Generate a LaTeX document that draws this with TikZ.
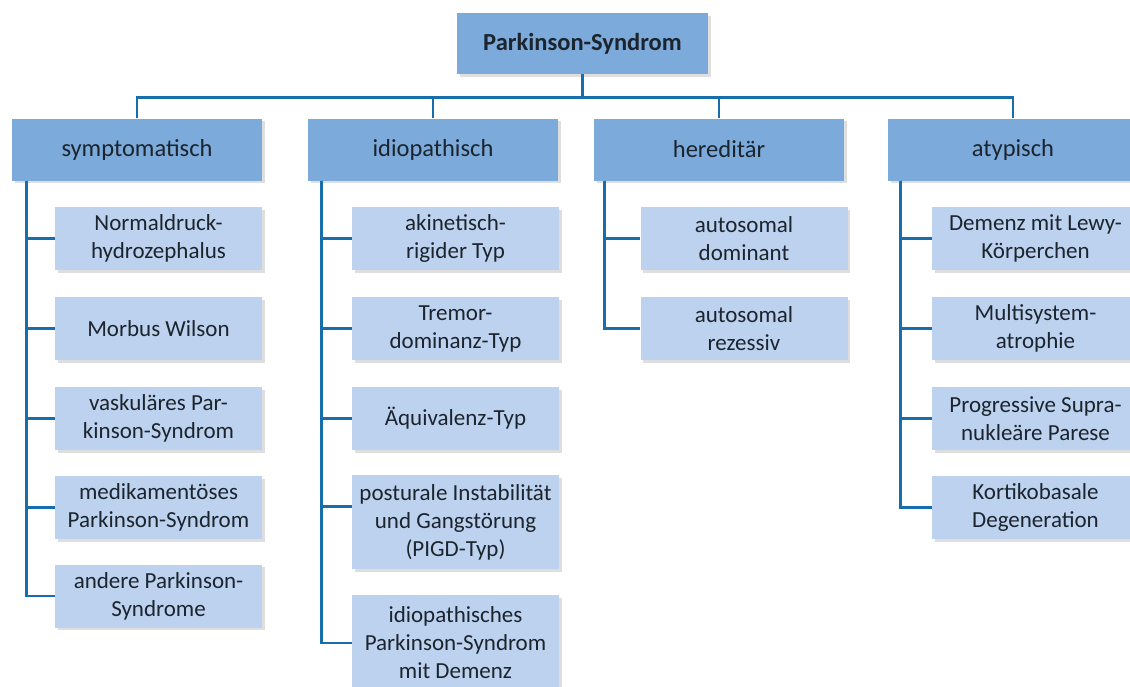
\documentclass[tikz,border=0pt]{standalone}
\usepackage{fontspec}
\setmainfont{Carlito}
\usetikzlibrary{shadows,calc}

\definecolor{catblue}{RGB}{124,170,218}
\definecolor{subblue}{RGB}{188,210,238}
\definecolor{linkblue}{RGB}{24,110,170}
\definecolor{inkdark}{RGB}{28,36,46}

\tikzset{
  box/.style={inner sep=0pt, align=center, text=inkdark,
    font=\fontsize{23}{28}\selectfont,
    drop shadow={shadow xshift=2.5pt, shadow yshift=-2.5pt,
      fill=black!13, opacity=1}},
  catbox/.style={box, fill=catblue, minimum width=250pt, minimum height=62pt,
    font=\fontsize{24.5}{28}\selectfont},
  subbox/.style={box, fill=subblue, minimum width=207pt, minimum height=63pt},
  link/.style={draw=linkblue, line width=2.8pt}
}

\begin{document}
\begin{tikzpicture}[x=1pt,y=1pt]

  \useasboundingbox (0,0) rectangle (1130,-686);

  % column and row positions
  \def\cS{158.5} \def\cI{455.5} \def\cH{744} \def\cA{1035.5}
  \def\rA{-238.5} \def\rB{-328.5} \def\rC{-418.5} \def\rD{-507.5} \def\rE{-596}

  % root and categories
  \node[catbox, minimum width=251pt, minimum height=61pt,
    font=\fontsize{24.5}{28}\selectfont\bfseries] (root) at (582.5,-43.5) {Parkinson-Syndrom};
  \node[catbox] (symp)  at (137,-149.5)   {symptomatisch};
  \node[catbox] (idio)  at (433,-149.5)   {idiopathisch};
  \node[catbox] (hered) at (719,-149.5)   {hereditär};
  \node[catbox] (atyp)  at (1013,-149.5)  {atypisch};

  % symptomatisch
  \node[subbox] (s1) at (\cS,\rA) {Normaldruck-\\hydrozephalus};
  \node[subbox] (s2) at (\cS,\rB) {Morbus Wilson};
  \node[subbox] (s3) at (\cS,\rC) {vaskuläres Par-\\kinson-Syndrom};
  \node[subbox] (s4) at (\cS,\rD) {medikamentöses\\Parkinson-Syndrom};
  \node[subbox] (s5) at (\cS,\rE) {andere Parkinson-\\Syndrome};

  % idiopathisch
  \node[subbox] (i1) at (\cI,\rA) {akinetisch-\\rigider Typ};
  \node[subbox] (i2) at (\cI,\rB) {Tremor-\\dominanz-Typ};
  \node[subbox] (i3) at (\cI,\rC) {Äquivalenz-Typ};
  \node[subbox, minimum height=94pt] (i4) at (\cI,-522)
    {posturale Instabilität\\und Gangstörung\\(PIGD-Typ)};
  \node[subbox, minimum height=96pt] (i5) at (\cI,-643)
    {idiopathisches\\Parkinson-Syndrom\\mit Demenz};

  % hereditaer
  \node[subbox] (h1) at (\cH,\rA) {autosomal\\dominant};
  \node[subbox] (h2) at (\cH,\rB) {autosomal\\rezessiv};

  % atypisch
  \node[subbox] (a1) at (\cA,\rA) {Demenz mit Lewy-\\Körperchen};
  \node[subbox] (a2) at (\cA,\rB) {Multisystem-\\atrophie};
  \node[subbox] (a3) at (\cA,\rC) {Progressive Supra-\\nukleäre Parese};
  \node[subbox] (a4) at (\cA,\rD) {Kortikobasale\\Degeneration};

  % top bar
  \draw[link] (root.south) -- ++(0,-23) coordinate (bar);
  \draw[link] (symp.north) |- (bar) -| (atyp.north);
  \draw[link] (idio.north) |- (bar);
  \draw[link] (hered.north) |- (bar);

  % drop lines
  \coordinate (sv) at ($(symp.south west)+(15,0)$);
  \coordinate (iv) at ($(idio.south west)+(14,0)$);
  \coordinate (hv) at ($(hered.south west)+(11,0)$);
  \coordinate (av) at ($(atyp.south west)+(13,0)$);
  \foreach \n in {s1,s2,s3,s4,s5} \draw[link] (sv) |- (\n.west);
  \foreach \n in {i1,i2,i3,i5} \draw[link] (iv) |- (\n.west);
  \draw[link] (iv) |- ($(i4.north west)+(0,-32)$);
  \foreach \n in {h1,h2} \draw[link] (hv) |- (\n.west);
  \foreach \n in {a1,a2,a3,a4} \draw[link] (av) |- (\n.west);
\end{tikzpicture}
\end{document}
